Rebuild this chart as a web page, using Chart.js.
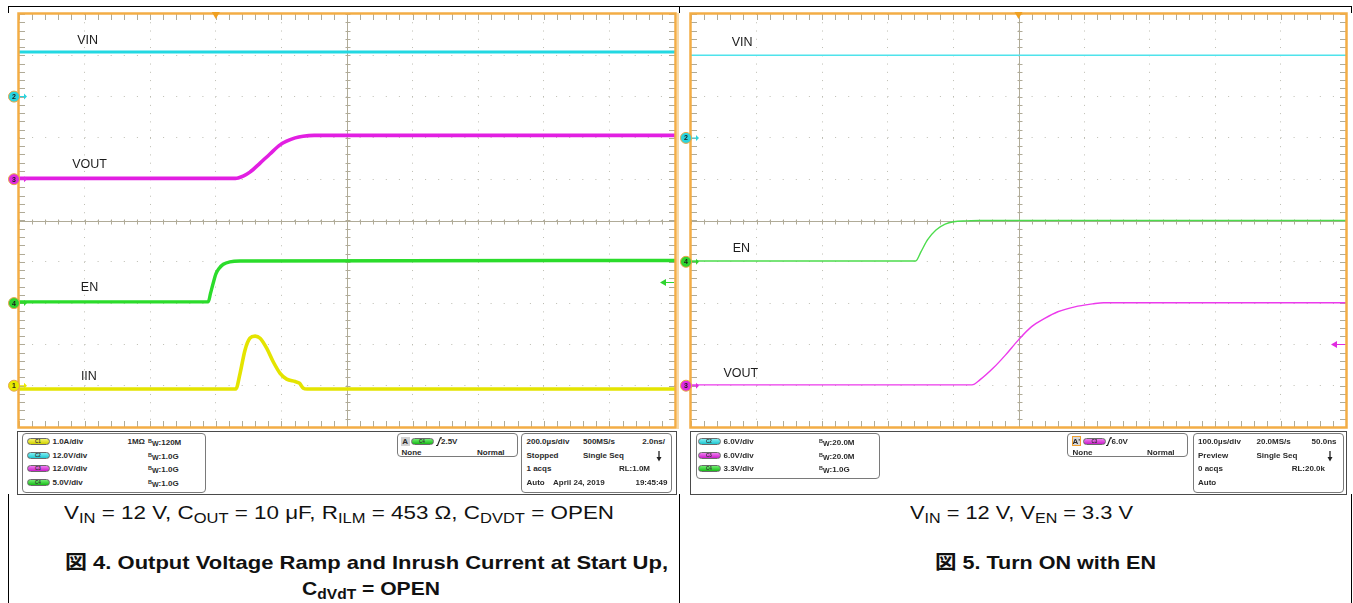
<!DOCTYPE html>
<html>
<head>
<meta charset="utf-8">
<script src="https://cdn.jsdelivr.net/npm/chart.js@4.4.1/dist/chart.umd.min.js"></script>
<style>
  body { margin: 0; width: 1353px; height: 603px; position: relative; overflow: hidden; background: #fff;
         font-family: "Liberation Sans", Arial, "Noto Sans CJK JP", sans-serif; }
  .ln { position: absolute; background: #000; }
  canvas { position: absolute; }
  .panel { position: absolute; border: 1px solid #4a4a4a; background: #fff; box-sizing: border-box; }
  .box { position: absolute; border: 1px solid #7a7a7a; border-radius: 4px; box-sizing: border-box; background: #fff; }
  .t { position: absolute; font-size: 8px; line-height: 9px; font-weight: bold; color: #2a2a2a; white-space: nowrap; }
  .t .b { font-size: 5.5px; vertical-align: 2px; }
  .t .w { font-size: 7px; vertical-align: -1px; }
  .pill { position: absolute; width: 23px; height: 7px; border-radius: 4px; border: 1px solid #6a6a6a; box-sizing: border-box;
          font-size: 4.5px; line-height: 5px; text-align: center; color: #333; font-weight: bold; }
  .cap { position: absolute; font-size: 19px; line-height: 19px; white-space: nowrap; color: #111; transform-origin: 0 0; }
  .cap sub { font-size: 14px; vertical-align: -4px; line-height: 0; }
  .cap.bold { font-weight: bold; }
</style>
</head>
<body>

<!-- table lines of the page -->
<div class="ln" style="left:8px;top:6px;width:1344px;height:1px"></div>
<div class="ln" style="left:8px;top:6px;width:1px;height:7px"></div>
<div class="ln" style="left:679px;top:6px;width:1px;height:7px"></div>
<div class="ln" style="left:1351px;top:6px;width:1px;height:7px"></div>
<div class="ln" style="left:8px;top:494px;width:1px;height:109px"></div>
<div class="ln" style="left:679px;top:494px;width:1px;height:109px"></div>
<div class="ln" style="left:1351px;top:494px;width:1px;height:109px"></div>
<div style="position:absolute;left:677px;top:13px;width:2px;height:416px;background:#f8d9a6"></div>

<canvas id="fig4" width="675" height="426" style="left:5px;top:6px"></canvas>
<canvas id="fig5" width="675" height="426" style="left:676px;top:6px"></canvas>

<!-- Fig 4 scope readout -->
<div class="panel" style="left:17px;top:431px;width:660px;height:64px"></div>
<div class="box" style="left:22px;top:433px;width:184px;height:60px"></div>
<div class="pill" style="left:26.5px;top:437.5px;background:linear-gradient(#f4f46a,#d2d200)">C1</div>
<div class="pill" style="left:26.5px;top:451.5px;background:linear-gradient(#7eeef2,#1fc6d0)">C2</div>
<div class="pill" style="left:26.5px;top:465px;background:linear-gradient(#f07ef0,#c81ec8)">C3</div>
<div class="pill" style="left:26.5px;top:478.5px;background:linear-gradient(#72ee72,#18bb18)">C4</div>
<div class="t" style="left:52.5px;top:436.5px">1.0A/div</div>
<div class="t" style="left:52.5px;top:450.5px">12.0V/div</div>
<div class="t" style="left:52.5px;top:464px">12.0V/div</div>
<div class="t" style="left:52.5px;top:477.5px">5.0V/div</div>
<div class="t" style="left:127.5px;top:436.5px">1MΩ</div>
<div class="t" style="left:148px;top:436.5px"><span class="b">B</span><span class="w">W</span>:120M</div>
<div class="t" style="left:148px;top:450.5px"><span class="b">B</span><span class="w">W</span>:1.0G</div>
<div class="t" style="left:148px;top:464px"><span class="b">B</span><span class="w">W</span>:1.0G</div>
<div class="t" style="left:148px;top:477.5px"><span class="b">B</span><span class="w">W</span>:1.0G</div>

<div class="box" style="left:397px;top:433px;width:121px;height:24px"></div>
<div class="t" style="left:401px;top:436.5px;width:8.5px;height:9px;background:#d2d2d2;text-align:center">A</div>
<div class="pill" style="left:410.5px;top:437.5px;background:linear-gradient(#72ee72,#18bb18)">C4</div>
<svg style="position:absolute;left:435.5px;top:436.5px" width="6" height="9"><path d="M0 8.5 H1.5 L4.5 0.8 H6" stroke="#222" stroke-width="1.2" fill="none"/></svg>
<div class="t" style="left:441px;top:436.5px">2.5V</div>
<div class="t" style="left:401.5px;top:447.5px">None</div>
<div class="t" style="left:477px;top:447.5px">Normal</div>

<div class="box" style="left:521px;top:433px;width:151px;height:60px"></div>
<div class="t" style="left:526.5px;top:436.5px">200.0µs/div</div>
<div class="t" style="left:583px;top:436.5px">500MS/s</div>
<div class="t" style="right:688px;top:436.5px">2.0ns/</div>
<div class="t" style="left:526.5px;top:450.5px">Stopped</div>
<div class="t" style="left:583px;top:450.5px">Single Seq</div>
<svg style="position:absolute;left:655.5px;top:451px" width="6" height="11"><path d="M3 0 V7" stroke="#222" stroke-width="1.3"/><path d="M0.5 6 H5.5 L3 10.5 Z" fill="#222"/></svg>
<div class="t" style="left:526.5px;top:464px">1 acqs</div>
<div class="t" style="right:703px;top:464px">RL:1.0M</div>
<div class="t" style="left:526.5px;top:477.5px">Auto</div>
<div class="t" style="left:553px;top:477.5px">April 24, 2019</div>
<div class="t" style="right:685.5px;top:477.5px">19:45:49</div>

<!-- Fig 5 scope readout -->
<div class="panel" style="left:690px;top:431px;width:657px;height:64px"></div>
<div class="box" style="left:695.5px;top:433px;width:184px;height:46px"></div>
<div class="pill" style="left:697.5px;top:437.5px;background:linear-gradient(#7eeef2,#1fc6d0)">C2</div>
<div class="pill" style="left:697.5px;top:451.5px;background:linear-gradient(#f07ef0,#c81ec8)">C3</div>
<div class="pill" style="left:697.5px;top:465px;background:linear-gradient(#72ee72,#18bb18)">C4</div>
<div class="t" style="left:723.5px;top:436.5px">6.0V/div</div>
<div class="t" style="left:723.5px;top:450.5px">6.0V/div</div>
<div class="t" style="left:723.5px;top:464px">3.3V/div</div>
<div class="t" style="left:819px;top:436.5px"><span class="b">B</span><span class="w">W</span>:20.0M</div>
<div class="t" style="left:819px;top:450.5px"><span class="b">B</span><span class="w">W</span>:20.0M</div>
<div class="t" style="left:819px;top:464px"><span class="b">B</span><span class="w">W</span>:1.0G</div>

<div class="box" style="left:1067px;top:433px;width:121px;height:24px"></div>
<div class="t" style="left:1071.5px;top:435.5px;width:9px;height:10px;box-sizing:border-box;border:1px solid #f0a030;background:#d8d8d8;text-align:center;line-height:9px">A'</div>
<div class="pill" style="left:1083px;top:437.5px;background:linear-gradient(#f07ef0,#c81ec8)">C3</div>
<svg style="position:absolute;left:1106px;top:436.5px" width="6" height="9"><path d="M0 8.5 H1.5 L4.5 0.8 H6" stroke="#222" stroke-width="1.2" fill="none"/></svg>
<div class="t" style="left:1111.5px;top:436.5px">6.0V</div>
<div class="t" style="left:1072.5px;top:447.5px">None</div>
<div class="t" style="left:1147px;top:447.5px">Normal</div>

<div class="box" style="left:1192.5px;top:433px;width:151px;height:60px"></div>
<div class="t" style="left:1198px;top:436.5px">100.0µs/div</div>
<div class="t" style="left:1256.5px;top:436.5px">20.0MS/s</div>
<div class="t" style="right:16.5px;top:436.5px">50.0ns</div>
<div class="t" style="left:1198px;top:450.5px">Preview</div>
<div class="t" style="left:1256.5px;top:450.5px">Single Seq</div>
<svg style="position:absolute;left:1327px;top:451px" width="6" height="11"><path d="M3 0 V7" stroke="#222" stroke-width="1.3"/><path d="M0.5 6 H5.5 L3 10.5 Z" fill="#222"/></svg>
<div class="t" style="left:1198px;top:464px">0 acqs</div>
<div class="t" style="right:28px;top:464px">RL:20.0k</div>
<div class="t" style="left:1198px;top:477.5px">Auto</div>

<!-- captions -->
<div class="cap" data-w="550" style="left:64px;top:503px">V<sub>IN</sub> = 12 V, C<sub>OUT</sub> = 10 μF, R<sub>ILM</sub> = 453 Ω, C<sub>DVDT</sub> = OPEN</div>
<div class="cap bold" data-w="603" style="left:65px;top:552.5px">図 4. Output Voltage Ramp and Inrush Current at Start Up,</div>
<div class="cap bold" data-w="138" style="left:302px;top:579px">C<sub>dVdT</sub> = OPEN</div>
<div class="cap" data-w="223" style="left:910px;top:503px">V<sub>IN</sub> = 12 V, V<sub>EN</sub> = 3.3 V</div>
<div class="cap bold" data-w="221" style="left:935px;top:552.5px">図 5. Turn ON with EN</div>

<script>
// values: time in µs (trigger at t = 0),
// trace level in divisions from the screen centre (10 x 10 div graticule)

// 図 4 : 200 µs/div
const f4VinT = [-600, 1400];
const f4VinY = [4.08, 4.08];
const f4VoutT = [-600, 60, 68, 85, 104, 135, 165, 196, 216, 242, 266, 300, 1400];
const f4VoutY = [1.02, 1.02, 1.03, 1.08, 1.17, 1.39, 1.61, 1.83, 1.92, 2.0, 2.04, 2.06, 2.06];
const f4EnT = [-600, -23, -16, -8, 0, 10, 23, 43, 74, 1400];
const f4EnY = [-1.97, -1.97, -1.76, -1.52, -1.3, -1.16, -1.06, -1.0, -0.98, -0.97];
const f4IinT = [-600, 61, 74, 89, 104, 120, 135, 155, 175, 196, 216, 242, 255, 267, 278, 1400];
const f4IinY = [-4.08, -4.08, -3.70, -3.14, -2.85, -2.80, -2.85, -3.09, -3.42, -3.70, -3.84, -3.90, -3.94, -4.06, -4.08, -4.08];

// 図 5 : 100 µs/div
const f5VinT = [-500, 500];
const f5VinY = [4.0, 4.0];
const f5EnT = [-500, -157, -149, -139, -126, -112, -99, -79, -59, 500];
const f5EnY = [-0.98, -0.98, -0.76, -0.47, -0.23, -0.09, -0.03, -0.01, 0, 0];
const f5VoutT = [-500, -71, -59, -39, -20, 0, 20, 40, 60, 86, 113, 130, 500];
const f5VoutY = [-3.98, -3.98, -3.86, -3.58, -3.26, -2.89, -2.57, -2.37, -2.21, -2.09, -2.02, -1.99, -1.99];

// channel ground markers, trigger level and trace names
const f4Markers = [['2', 3, '#2ad4de'], ['3', 1, '#e02ae0'], ['4', -2, '#2fd42f'], ['1', -4, '#e8e800']];
const f5Markers = [['2', 2, '#2ad4de'], ['4', -1, '#2fd42f'], ['3', -4, '#e02ae0']];
const f4Names = [['VIN', -391, 4.36], ['VOUT', -385, 1.36], ['EN', -385, -1.63], ['IIN', -387, -3.78]];
const f5Names = [['VIN', -422, 4.30], ['EN', -423, -0.69], ['VOUT', -424, -3.70]];

function pts(ts, vs) {
    return ts.map((t, i) => ({ x: t, y: vs[i] }));
}

function trace(ts, vs, color, width) {
    return {
        data: pts(ts, vs),
        borderColor: color,
        borderWidth: width,
        pointRadius: 0,
        fill: false,
        cubicInterpolationMode: 'monotone'
    };
}

const scopePlugin = {
    id: 'scope',
    beforeDatasetsDraw(chart, args, opts) {
        const { ctx, chartArea: a, scales: { x, y } } = chart;
        const cx = Math.round(x.getPixelForValue((x.min + x.max) / 2)) + 0.5;
        const cy = Math.round(y.getPixelForValue(0)) + 0.5;
        ctx.save();
        ctx.strokeStyle = '#b0ab98';
        ctx.lineWidth = 1;
        ctx.beginPath();
        ctx.moveTo(a.left, cy); ctx.lineTo(a.right, cy);
        ctx.moveTo(cx, a.top); ctx.lineTo(cx, a.bottom);
        // minor ticks on the centre lines and along the frame
        for (let v = x.min; v <= x.max + 1e-6; v += opts.step / 5) {
            const px = Math.round(x.getPixelForValue(v)) + 0.5;
            ctx.moveTo(px, cy - 2); ctx.lineTo(px, cy + 3);
            ctx.moveTo(px, a.top); ctx.lineTo(px, a.top + 6);
            ctx.moveTo(px, a.bottom); ctx.lineTo(px, a.bottom - 6);
        }
        for (let v = y.min; v <= y.max + 1e-6; v += 0.2) {
            const py = Math.round(y.getPixelForValue(v)) + 0.5;
            ctx.moveTo(cx - 2, py); ctx.lineTo(cx + 3, py);
            ctx.moveTo(a.left, py); ctx.lineTo(a.left + 6, py);
            ctx.moveTo(a.right, py); ctx.lineTo(a.right - 6, py);
        }
        ctx.stroke();
        ctx.restore();
    },
    afterDatasetsDraw(chart, args, opts) {
        const { ctx, chartArea: a, scales: { x, y } } = chart;
        ctx.save();
        // orange frame
        ctx.strokeStyle = '#f3ad45';
        ctx.lineWidth = 2.5;
        ctx.strokeRect(a.left - 0.5, a.top - 0.5, a.right - a.left + 1, a.bottom - a.top + 1);

        // trigger position
        const tx = x.getPixelForValue(0);
        ctx.fillStyle = '#f0a020';
        ctx.beginPath();
        ctx.moveTo(tx - 4, a.top - 2); ctx.lineTo(tx + 4, a.top - 2); ctx.lineTo(tx, a.top + 5);
        ctx.fill();

        // trigger level arrow
        const ty = Math.round(y.getPixelForValue(opts.trigLevel)) + 0.5;
        ctx.strokeStyle = opts.trigColor;
        ctx.fillStyle = opts.trigColor;
        ctx.lineWidth = 1;
        ctx.beginPath();
        ctx.moveTo(a.right - 11, ty); ctx.lineTo(a.right - 1, ty);
        ctx.stroke();
        ctx.beginPath();
        ctx.moveTo(a.right - 15, ty); ctx.lineTo(a.right - 9, ty - 3.5); ctx.lineTo(a.right - 9, ty + 3.5);
        ctx.fill();

        // channel markers
        opts.markers.forEach(([n, lvl, col]) => {
            const my = y.getPixelForValue(lvl);
            const mx = a.left - 5;
            ctx.fillStyle = col;
            ctx.beginPath();
            ctx.moveTo(a.left + 1, my - 0.5); ctx.lineTo(a.left + 5, my - 0.5);
            ctx.lineTo(a.left + 5, my - 3); ctx.lineTo(a.left + 8, my); ctx.lineTo(a.left + 5, my + 3);
            ctx.lineTo(a.left + 5, my + 0.5); ctx.lineTo(a.left + 1, my + 0.5);
            ctx.fill();
            ctx.beginPath();
            ctx.arc(mx, my, 5.5, 0, Math.PI * 2);
            ctx.fill();
            ctx.strokeStyle = '#e7a64a';
            ctx.lineWidth = 1;
            ctx.stroke();
            ctx.fillStyle = '#1c1c1c';
            ctx.font = 'bold 7px "Liberation Sans", Arial, sans-serif';
            ctx.textAlign = 'center';
            ctx.textBaseline = 'middle';
            ctx.fillText(n, mx, my + 0.5);
        });

        // trace names
        ctx.fillStyle = '#1c1c1c';
        ctx.font = '12.5px "Liberation Sans", Arial, sans-serif';
        ctx.textAlign = 'center';
        ctx.textBaseline = 'middle';
        opts.names.forEach(([txt, t, v]) => {
            ctx.fillText(txt, x.getPixelForValue(t), y.getPixelForValue(v));
        });
        ctx.restore();
    }
};

function edgeless(c) {
    return (c.index === 0 || c.index === c.scale.ticks.length - 1) ? 'rgba(0,0,0,0)' : '#bdbdb2';
}

function makeScope(id, xmin, xmax, step, pad, datasets, opts) {
    return new Chart(document.getElementById(id), {
        type: 'line',
        data: { datasets },
        options: {
            responsive: false,
            animation: false,
            devicePixelRatio: 1,
            layout: { padding: pad },
            scales: {
                x: {
                    type: 'linear', min: xmin, max: xmax,
                    ticks: { display: false, stepSize: step },
                    grid: { color: edgeless, lineWidth: 1, drawTicks: false },
                    border: { display: false, dash: [1, 7.26] }
                },
                y: {
                    type: 'linear', min: -5, max: 5,
                    ticks: { display: false, stepSize: 1 },
                    grid: { color: edgeless, lineWidth: 1, drawTicks: false },
                    border: { display: false, dash: [1, 12.1] }
                }
            },
            plugins: {
                legend: { display: false },
                tooltip: { enabled: false },
                scope: Object.assign({ step }, opts)
            }
        },
        plugins: [scopePlugin]
    });
}

makeScope('fig4', -600, 1400, 200, { left: 14, right: 5, top: 8, bottom: 5 }, [
    trace(f4VinT, f4VinY, '#22d8e2', 3.2),
    trace(f4VoutT, f4VoutY, '#e21fe2', 3.6),
    trace(f4EnT, f4EnY, '#2bdc2b', 3.4),
    trace(f4IinT, f4IinY, '#e4e400', 3.6)
], { markers: f4Markers, names: f4Names, trigLevel: -1.5, trigColor: '#2fd42f' });

makeScope('fig5', -500, 500, 100, { left: 15, right: 5, top: 8, bottom: 5 }, [
    trace(f5VinT, f5VinY, '#4fe3ec', 1.4),
    trace(f5EnT, f5EnY, '#4cdc4c', 1.4),
    trace(f5VoutT, f5VoutY, '#ec3aec', 1.4)
], { markers: f5Markers, names: f5Names, trigLevel: -3, trigColor: '#e02ae0' });

// squeeze captions to the widths measured on the reference
document.querySelectorAll('[data-w]').forEach(el => {
    const w = el.getBoundingClientRect().width;
    el.style.transform = 'scaleX(' + (el.dataset.w / w) + ')';
});
</script>
</body>
</html>
